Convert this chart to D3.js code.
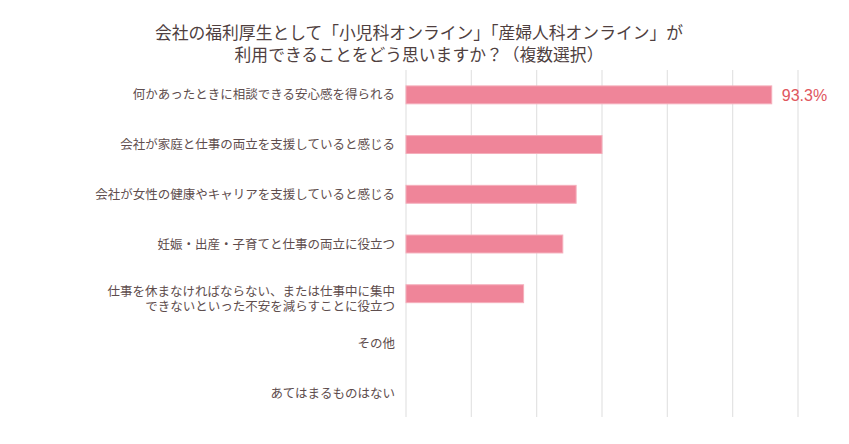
<!DOCTYPE html>
<html>
<head>
<meta charset="utf-8">
<script src="https://cdn.jsdelivr.net/npm/d3@7"></script>
<style>
  html, body { margin: 0; padding: 0; background: #fff; }
  svg { display: block; }
</style>
</head>
<body>
<div id="chart"></div>
<script>
const titleLines = [
    "会社の福利厚生として「小児科オンライン」「産婦人科オンライン」が",
    "利用できることをどう思いますか？（複数選択）"
]

const categories = [
    ["何かあったときに相談できる安心感を得られる"],
    ["会社が家庭と仕事の両立を支援していると感じる"],
    ["会社が女性の健康やキャリアを支援していると感じる"],
    ["妊娠・出産・子育てと仕事の両立に役立つ"],
    ["仕事を休まなければならない、または仕事中に集中", "できないといった不安を減らすことに役立つ"],
    ["その他"],
    ["あてはまるものはない"]
]

const values = [93.3, 50.0, 43.4, 40.0, 30.0, 0, 0]

// only the top bar carries a label
const labelledIndex = [0]

const gridTicks = d3.range(0, 7).map(i => i * 100 / 6)

const dimensions = {width: 849, height: 444, marginLeft: 406, marginRight: 51, marginTop: 70, marginBottom: 26}

const fontJP = "'Noto Sans CJK JP', 'Noto Sans', sans-serif"

const svg = d3.select("#chart").append("svg")
    .attr("width", dimensions.width)
    .attr("height", dimensions.height)

const x = d3.scaleLinear()
    .domain([0, 100])
    .range([dimensions.marginLeft, dimensions.width - dimensions.marginRight])

const y = d3.scaleBand()
    .domain(d3.range(categories.length))
    .range([dimensions.marginTop, dimensions.height - dimensions.marginBottom])
    .paddingInner(0.64)
    .paddingOuter(0.32)

// title
svg.append("g")
    .selectAll("text")
    .data(titleLines)
    .join("text")
    .attr("x", 419)
    .attr("y", (d, i) => 39 + i * 22)
    .attr("text-anchor", "middle")
    .attr("font-family", fontJP)
    .attr("font-size", 16.8)
    .attr("fill", "#4f3f3f")
    .text(d => d)

// grid lines
svg.append("g")
    .selectAll("line")
    .data(gridTicks)
    .join("line")
    .attr("x1", d => x(d))
    .attr("x2", d => x(d))
    .attr("y1", dimensions.marginTop)
    .attr("y2", 417)
    .attr("stroke", "#e3e3e3")
    .attr("stroke-width", 1.2)

// bars
svg.append("g")
    .selectAll("rect")
    .data(values)
    .join("rect")
    .attr("x", x(0))
    .attr("y", (d, i) => y(i))
    .attr("width", d => x(d) - x(0))
    .attr("height", y.bandwidth())
    .attr("fill", "#ef8599")
    .attr("stroke", "#f5aebb")
    .attr("stroke-width", d => d > 0 ? 1 : 0)

// value label
svg.append("g")
    .selectAll("text")
    .data(labelledIndex)
    .join("text")
    .attr("x", i => x(values[i]) + 10)
    .attr("y", i => y(i) + y.bandwidth() / 2)
    .attr("dy", "0.36em")
    .attr("font-family", "'Liberation Sans', Arial, sans-serif")
    .attr("font-size", 16)
    .attr("fill", "#e0565e")
    .text(i => `${values[i].toFixed(1)}%`)

// category labels
const labels = svg.append("g")
    .selectAll("text")
    .data(categories)
    .join("text")
    .attr("x", 395)
    .attr("y", (d, i) => y(i) + y.bandwidth() / 2)
    .attr("text-anchor", "end")
    .attr("font-family", fontJP)
    .attr("font-size", 12.5)
    .attr("fill", "#5e4d4d")

labels.selectAll("tspan")
    .data(d => d.map((line, j) => ({line, j, n: d.length})))
    .join("tspan")
    .attr("x", 395)
    .attr("dy", d => d.n === 1 ? "0.36em" : (d.j === 0 ? "0.2em" : "1.16em"))
    .text(d => d.line)
</script>
</body>
</html>
